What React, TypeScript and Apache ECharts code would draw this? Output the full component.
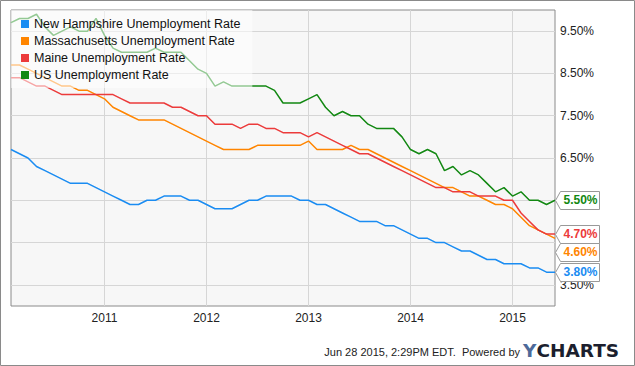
import React, { useEffect, useRef } from 'react';
import * as echarts from 'echarts';

const MONTHS = ['Jan', 'Feb', 'Mar', 'Apr', 'May', 'Jun', 'Jul', 'Aug', 'Sep', 'Oct', 'Nov', 'Dec'];
const categories: string[] = [];
for (let y = 2010; y <= 2015; y++) {
  for (let m = 0; m < 12; m++) {
    if (y === 2015 && m > 4) break;
    categories.push(`${MONTHS[m]} ${y}`);
  }
}

const xTickLabels = ['2011', '2012', '2013', '2014', '2015'];

const nhRate = [
  6.7, 6.6, 6.5, 6.3, 6.2, 6.1, 6.0, 5.9, 5.9, 5.9,
  5.8, 5.7, 5.6, 5.5, 5.4, 5.4, 5.5, 5.5, 5.6, 5.6,
  5.6, 5.5, 5.5, 5.4, 5.3, 5.3, 5.3, 5.4, 5.5, 5.5,
  5.6, 5.6, 5.6, 5.6, 5.5, 5.5, 5.4, 5.4, 5.3, 5.2,
  5.1, 5.0, 5.0, 5.0, 4.9, 4.9, 4.8, 4.7, 4.6, 4.6,
  4.5, 4.5, 4.4, 4.3, 4.3, 4.2, 4.1, 4.1, 4.0, 4.0,
  4.0, 3.9, 3.9, 3.8, 3.8,
];
const maRate = [
  8.7, 8.7, 8.6, 8.5, 8.4, 8.3, 8.2, 8.2, 8.1, 8.1,
  8.0, 7.9, 7.7, 7.6, 7.5, 7.4, 7.4, 7.4, 7.4, 7.3,
  7.2, 7.1, 7.0, 6.9, 6.8, 6.7, 6.7, 6.7, 6.7, 6.8,
  6.8, 6.8, 6.8, 6.8, 6.8, 6.9, 6.7, 6.7, 6.7, 6.7,
  6.8, 6.7, 6.7, 6.6, 6.5, 6.4, 6.3, 6.2, 6.1, 6.0,
  5.9, 5.8, 5.8, 5.7, 5.6, 5.6, 5.5, 5.4, 5.4, 5.3,
  5.1, 4.9, 4.8, 4.7, 4.6,
];
const meRate = [
  8.4, 8.4, 8.3, 8.2, 8.2, 8.1, 8.0, 8.0, 8.0, 8.0,
  8.0, 8.0, 8.0, 7.9, 7.8, 7.8, 7.8, 7.8, 7.8, 7.7,
  7.7, 7.6, 7.5, 7.5, 7.3, 7.3, 7.3, 7.2, 7.3, 7.3,
  7.2, 7.2, 7.1, 7.1, 7.1, 7.0, 7.1, 7.0, 6.9, 6.8,
  6.7, 6.6, 6.6, 6.5, 6.4, 6.3, 6.2, 6.1, 6.0, 5.9,
  5.8, 5.8, 5.7, 5.7, 5.7, 5.6, 5.6, 5.6, 5.5, 5.5,
  5.2, 5.0, 4.8, 4.7, 4.7,
];
const usRate = [
  9.7, 9.8, 9.8, 9.9, 9.6, 9.4, 9.5, 9.6, 9.5, 9.5,
  9.8, 9.4, 9.1, 9.0, 9.0, 9.0, 9.0, 9.1, 9.0, 9.0,
  9.0, 8.8, 8.6, 8.5, 8.2, 8.3, 8.2, 8.2, 8.2, 8.2,
  8.2, 8.1, 7.8, 7.8, 7.8, 7.9, 8.0, 7.7, 7.5, 7.6,
  7.5, 7.5, 7.3, 7.2, 7.2, 7.2, 7.0, 6.7, 6.6, 6.7,
  6.6, 6.2, 6.3, 6.1, 6.2, 6.1, 5.9, 5.7, 5.8, 5.6,
  5.7, 5.5, 5.5, 5.4, 5.5,
];

const SERIES = [
  { name: 'New Hampshire Unemployment Rate', data: nhRate, color: '#1a8cf2', tagShift: 0 },
  { name: 'Massachusetts Unemployment Rate', data: maRate, color: '#ff8500', tagShift: 14 },
  { name: 'Maine Unemployment Rate', data: meRate, color: '#ec3b3b', tagShift: 0 },
  { name: 'US Unemployment Rate', data: usRate, color: '#128812', tagShift: 0 },
];

const FONT = '"Liberation Sans", Arial, sans-serif';

export default function App() {
  const ref = useRef<HTMLDivElement>(null);

  useEffect(() => {
    if (!ref.current) return;
    const chart = echarts.init(ref.current, undefined, { renderer: 'svg' });
    const last = categories.length - 1;
    const isYearMark = (i: number) => i % 12 === 11;
    const lastValues = SERIES.map((s) => s.data[last]);
    // axis labels hidden behind the end-value tags
    const coveredByTag = (v: number) => lastValues.some((lv) => Math.abs(v - lv) < 0.29);

    const staticGraphics: any[] = [
      {
        id: 'frame',
        type: 'rect',
        shape: { x: 0.5, y: 0.5, width: 634, height: 365 },
        style: { fill: 'none', stroke: '#8a8a8a', lineWidth: 1 },
        silent: true,
      },
      {
        id: 'stamp',
        type: 'text',
        x: 520,
        y: 352,
        style: {
          text: 'Jun 28 2015, 2:29PM EDT.  Powered by',
          fill: '#222',
          fontSize: 11,
          fontFamily: FONT,
          align: 'right',
          verticalAlign: 'middle',
        },
      },
      {
        id: 'logo',
        type: 'text',
        x: 523,
        y: 350,
        style: {
          text: '{y|Y}{c|CHARTS}',
          align: 'left',
          verticalAlign: 'middle',
          rich: {
            y: { fill: '#4d6a9a', fontSize: 18.5, fontWeight: 'bold', fontFamily: '"DejaVu Sans", sans-serif' },
            c: { fill: '#1c1f2e', fontSize: 18.5, fontWeight: 'bold', fontFamily: '"DejaVu Sans", sans-serif' },
          },
        },
      },
    ];

    chart.setOption({
      animation: false,
      textStyle: { fontFamily: FONT },
      grid: {
        left: 11,
        top: 10,
        right: 80,
        bottom: 60,
        show: true,
        backgroundColor: '#f7f7f7',
        borderColor: '#8a8a8a',
        borderWidth: 1,
      },
      legend: {
        data: SERIES.map((s) => s.name),
        orient: 'vertical',
        left: 11,
        top: 10,
        icon: 'rect',
        itemWidth: 8,
        itemHeight: 8,
        itemGap: 3,
        padding: [7, 12, 6, 10],
        backgroundColor: 'rgba(255,255,255,0.55)',
        selectedMode: false,
        textStyle: { fontSize: 12.5, color: '#111', lineHeight: 14, fontFamily: FONT },
      },
      xAxis: {
        type: 'category',
        data: categories,
        boundaryGap: false,
        axisLine: { show: false },
        axisTick: { show: false },
        axisLabel: {
          interval: (i: number) => isYearMark(i),
          formatter: (_v: string, i: number) => (isYearMark(i) ? xTickLabels[Math.floor(i / 12)] : ''),
          color: '#222',
          fontSize: 12,
          margin: 6,
        },
        splitLine: {
          show: true,
          interval: (i: number) => isYearMark(i),
          lineStyle: { color: '#d6d6d6', width: 1 },
        },
      },
      yAxis: {
        type: 'value',
        position: 'right',
        min: 3,
        max: 10,
        interval: 0.5,
        axisLine: { show: false },
        axisTick: { show: false },
        axisLabel: {
          formatter: (v: number) =>
            Math.round(v * 2) % 2 === 1 && !coveredByTag(v) ? v.toFixed(2) + '%' : '',
          color: '#222',
          fontSize: 12,
          lineHeight: 11,
          margin: 5,
        },
        splitLine: {
          show: true,
          lineStyle: { color: ['rgba(0,0,0,0)', '#d6d6d6'], width: 1 },
        },
      },
      series: SERIES.map((s) => ({
        name: s.name,
        type: 'line',
        data: s.data,
        symbol: 'none',
        color: s.color,
        itemStyle: { color: s.color },
        lineStyle: { color: s.color, width: 1.5 },
      })),
      graphic: staticGraphics,
    });

    // end-value tags, positioned from the last data point through the chart's own scales
    const tagGraphics: any[] = [];
    SERIES.forEach((s, k) => {
      const pt = chart.convertToPixel({ xAxisIndex: 0, yAxisIndex: 0 }, [last, s.data[last]]) as number[];
      const x0 = pt[0] + 0.5;
      const cy = Math.round(pt[1] + s.tagShift) + 0.5;
      const h = 9;
      tagGraphics.push({
        id: 'tagbox' + k,
        type: 'polygon',
        z: 100,
        shape: {
          points: [
            [x0, cy],
            [x0 + 5, cy - h],
            [x0 + 44, cy - h],
            [x0 + 44, cy + h],
            [x0 + 5, cy + h],
          ],
        },
        style: { fill: '#ffffff', stroke: '#999999', lineWidth: 1 },
        silent: true,
      });
      tagGraphics.push({
        id: 'tagtext' + k,
        type: 'text',
        z: 101,
        x: x0 + 25,
        y: cy - 0.5,
        style: {
          text: s.data[last].toFixed(2) + '%',
          fill: s.color,
          fontSize: 12,
          lineHeight: 11,
          fontWeight: 'bold',
          fontFamily: FONT,
          align: 'center',
          verticalAlign: 'middle',
        },
        silent: true,
      });
    });
    chart.setOption({ graphic: [...staticGraphics, ...tagGraphics] });

    return () => chart.dispose();
  }, []);

  return (
    <div
      ref={ref}
      style={{ position: 'fixed', left: 0, top: 0, width: 635, height: 366, background: '#fff' }}
    />
  );
}
